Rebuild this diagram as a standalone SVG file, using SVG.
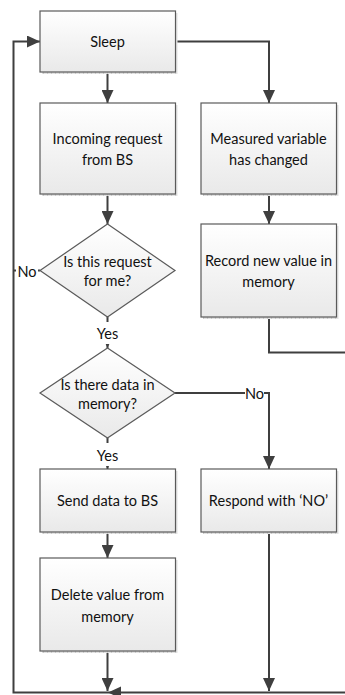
<svg xmlns="http://www.w3.org/2000/svg" width="345" height="695" viewBox="0 0 345 695">
  <defs>
    <linearGradient id="boxFill" x1="0" y1="0" x2="0" y2="1">
      <stop offset="0" stop-color="#ffffff"/>
      <stop offset="1" stop-color="#e9e9e9"/>
    </linearGradient>
    <pattern id="shadowHatch" width="4" height="4" patternUnits="userSpaceOnUse">
      <rect width="4" height="4" fill="#e2e2e2"/>
      <rect x="3" width="1" height="4" fill="#c9c9c9"/>
    </pattern>
    <marker id="arrow" viewBox="0 0 13 12" refX="13" refY="6" markerWidth="13" markerHeight="12" markerUnits="userSpaceOnUse" orient="auto">
      <path d="M0,0 L13,6 L0,12 Z" fill="#3f3f3f"/>
    </marker>
    <style>
      .shadow { fill: url(#shadowHatch); }
      .box { fill: url(#boxFill); stroke: #5a5a5a; stroke-width: 1.2; }
      .wire { fill: none; stroke: #3f3f3f; stroke-width: 2; }
      .txt, .lbl { font-family: Lato, "Open Sans", sans-serif; font-size: 14.5px; fill: #111111; text-anchor: middle; dominant-baseline: central; }
      .mask { fill: #ffffff; }
    </style>
  </defs>

  <rect width="345" height="695" fill="#ffffff"/>

  <!-- connectors -->
  <g id="connectors">
    <path class="wire" d="M107.5,72 V103" marker-end="url(#arrow)"/>
    <path class="wire" d="M175,41.5 H269 V103" marker-end="url(#arrow)"/>
    <path class="wire" d="M269,194 V224" marker-end="url(#arrow)"/>
    <path class="wire" d="M269,317 V352.5 H345"/>
    <path class="wire" d="M107.5,194 V224" marker-end="url(#arrow)"/>
    <path class="wire" d="M107.5,317 V348" marker-end="url(#arrow)"/>
    <path class="wire" d="M40,270.5 H13.5"/>
    <path class="wire" d="M175,393 H269 V469" marker-end="url(#arrow)"/>
    <path class="wire" d="M107.5,438 V469" marker-end="url(#arrow)"/>
    <path class="wire" d="M107.5,532 V558" marker-end="url(#arrow)"/>
    <path class="wire" d="M107.5,651 V691" marker-end="url(#arrow)"/>
    <path class="wire" d="M269,532 V691" marker-end="url(#arrow)"/>
    <path class="wire" d="M345,692.5 H13.5 V41.5 H40" marker-end="url(#arrow)"/>
    <path d="M108,692.5 L121,686.5 L121,698.5 Z" fill="#3f3f3f"/>

    <!-- branch labels -->
    <rect class="mask" x="16" y="263" width="22" height="16"/>
    <text class="lbl" x="27" y="271">No</text>
    <rect class="mask" x="245" y="385" width="19" height="16"/>
    <text class="lbl" x="254.5" y="393">No</text>
    <rect class="mask" x="92" y="322" width="31" height="22"/>
    <text class="lbl" x="107.5" y="333">Yes</text>
    <rect class="mask" x="92" y="443" width="31" height="23"/>
    <text class="lbl" x="107.5" y="455">Yes</text>
  </g>

  <g id="sleep">
    <rect class="shadow" x="42" y="13" width="135.5" height="61"/>
    <rect class="box" x="40" y="11" width="135.5" height="61"/>
    <text class="txt" x="107.5" y="41.5">Sleep</text>
  </g>

  <g id="incoming">
    <rect class="shadow" x="42" y="105" width="135.5" height="91"/>
    <rect class="box" x="40" y="103" width="135.5" height="91"/>
    <text class="txt" x="107.5" y="138">Incoming request</text>
    <text class="txt" x="107.5" y="159">from BS</text>
  </g>

  <g id="measured">
    <rect class="shadow" x="203" y="105" width="135.5" height="91"/>
    <rect class="box" x="201" y="103" width="135.5" height="91"/>
    <text class="txt" x="268.5" y="138">Measured variable</text>
    <text class="txt" x="268.5" y="159">has changed</text>
  </g>

  <g id="record">
    <rect class="shadow" x="203" y="226" width="135.5" height="93"/>
    <rect class="box" x="201" y="224" width="135.5" height="93"/>
    <text class="txt" x="268.5" y="260.5">Record new value in</text>
    <text class="txt" x="268.5" y="281.5">memory</text>
  </g>

  <g id="for-me">
    <polygon class="box" points="107.5,224 175,270.5 107.5,317 40,270.5"/>
    <text class="txt" x="107.5" y="261.5">Is this request</text>
    <text class="txt" x="107.5" y="280.5">for me?</text>
  </g>

  <g id="data-in-memory">
    <polygon class="box" points="107.5,348 175,393 107.5,438 40,393"/>
    <text class="txt" x="107.5" y="384">Is there data in</text>
    <text class="txt" x="107.5" y="403">memory?</text>
  </g>

  <g id="send">
    <rect class="shadow" x="42" y="471" width="135.5" height="63"/>
    <rect class="box" x="40" y="469" width="135.5" height="63"/>
    <text class="txt" x="107.5" y="500.5">Send data to BS</text>
  </g>

  <g id="respond">
    <rect class="shadow" x="203" y="471" width="135.5" height="63"/>
    <rect class="box" x="201" y="469" width="135.5" height="63"/>
    <text class="txt" x="268.5" y="500.5">Respond with ‘NO’</text>
  </g>

  <g id="delete">
    <rect class="shadow" x="42" y="560" width="135.5" height="93"/>
    <rect class="box" x="40" y="558" width="135.5" height="93"/>
    <text class="txt" x="107.5" y="594">Delete value from</text>
    <text class="txt" x="107.5" y="616">memory</text>
  </g>
</svg>
